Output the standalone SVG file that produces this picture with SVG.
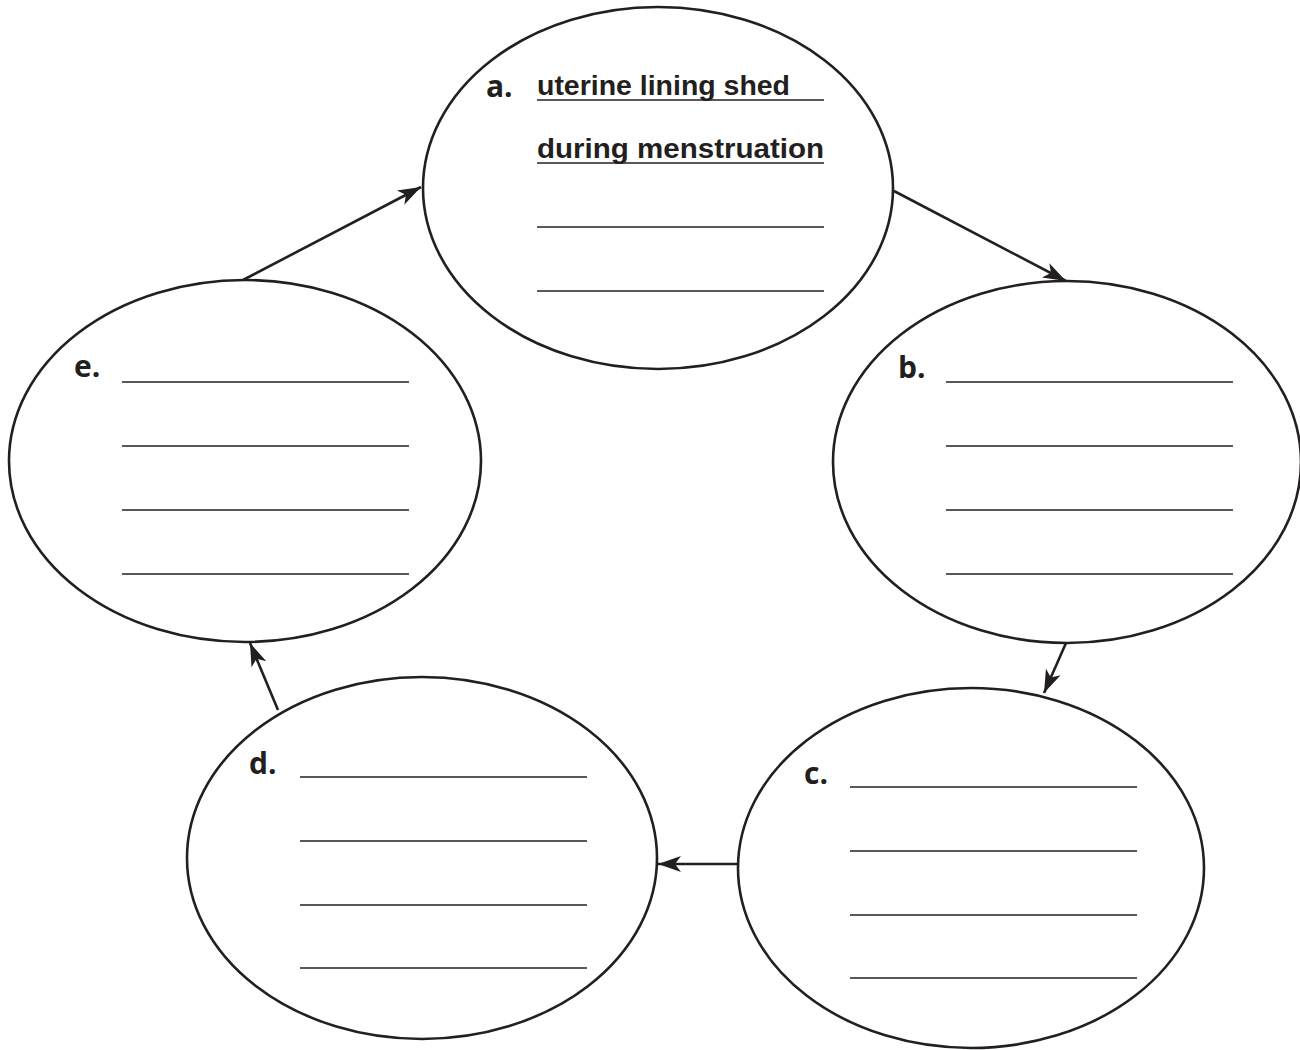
<svg xmlns="http://www.w3.org/2000/svg" width="1300" height="1050" viewBox="0 0 1300 1050">
<style>
.ell{fill:#ffffff;stroke:#231f20;stroke-width:2.6}
.rule{stroke:#231f20;stroke-width:1.6}
.lbl{font-family:"Open Sans","Liberation Sans",Arial,sans-serif;font-weight:bold;font-size:30px;fill:#231f20}
.hand{font-family:"Liberation Sans",Arial,sans-serif;font-weight:bold;font-size:28px;fill:#231f20}
.conn{fill:none;stroke:#231f20;stroke-width:2.6;marker-end:url(#ah)}
</style>
<defs>
<marker id="ah" markerUnits="userSpaceOnUse" viewBox="-26 -10 28 20" markerWidth="28" markerHeight="20" refX="0" refY="0" orient="auto">
<path d="M0,0 L-23,-8 L-17,0 L-23,8 Z" fill="#231f20"/>
</marker>
</defs>
<rect width="1300" height="1050" fill="#ffffff"/>
<g id="node-a">
<ellipse class="ell" cx="658" cy="188" rx="235" ry="181"/>
<text class="lbl" x="486" y="97">a.</text>
<text class="hand" x="537" y="95" textLength="253" lengthAdjust="spacingAndGlyphs">uterine lining shed</text>
<text class="hand" x="537" y="158" textLength="287" lengthAdjust="spacingAndGlyphs">during menstruation</text>
<line class="rule" x1="537" y1="100" x2="824" y2="100"/>
<line class="rule" x1="537" y1="163" x2="824" y2="163"/>
<line class="rule" x1="537" y1="227" x2="824" y2="227"/>
<line class="rule" x1="537" y1="291" x2="824" y2="291"/>
</g>
<g id="node-b">
<ellipse class="ell" cx="1067" cy="462" rx="234" ry="181"/>
<text class="lbl" x="898" y="378">b.</text>
<line class="rule" x1="946" y1="382" x2="1233" y2="382"/>
<line class="rule" x1="946" y1="446" x2="1233" y2="446"/>
<line class="rule" x1="946" y1="510" x2="1233" y2="510"/>
<line class="rule" x1="946" y1="574" x2="1233" y2="574"/>
</g>
<g id="node-c">
<ellipse class="ell" cx="971" cy="868" rx="233" ry="180"/>
<text class="lbl" x="804" y="784">c.</text>
<line class="rule" x1="850" y1="787" x2="1137" y2="787"/>
<line class="rule" x1="850" y1="851" x2="1137" y2="851"/>
<line class="rule" x1="850" y1="915" x2="1137" y2="915"/>
<line class="rule" x1="850" y1="978" x2="1137" y2="978"/>
</g>
<g id="node-d">
<ellipse class="ell" cx="422" cy="858" rx="235" ry="181"/>
<text class="lbl" x="249" y="774">d.</text>
<line class="rule" x1="300" y1="777" x2="587" y2="777"/>
<line class="rule" x1="300" y1="841" x2="587" y2="841"/>
<line class="rule" x1="300" y1="905" x2="587" y2="905"/>
<line class="rule" x1="300" y1="968" x2="587" y2="968"/>
</g>
<g id="node-e">
<ellipse class="ell" cx="245" cy="461" rx="236" ry="181"/>
<text class="lbl" x="74" y="377">e.</text>
<line class="rule" x1="122" y1="382" x2="409" y2="382"/>
<line class="rule" x1="122" y1="446" x2="409" y2="446"/>
<line class="rule" x1="122" y1="510" x2="409" y2="510"/>
<line class="rule" x1="122" y1="574" x2="409" y2="574"/>
</g>
<g id="connectors">
<path class="conn" d="M894,191 L1066,281"/>
<path class="conn" d="M1066,643 L1044,693"/>
<path class="conn" d="M738,864 L658,864"/>
<path class="conn" d="M278,710 L250,643"/>
<path class="conn" d="M243,280 L421,187"/>
</g>
</svg>
